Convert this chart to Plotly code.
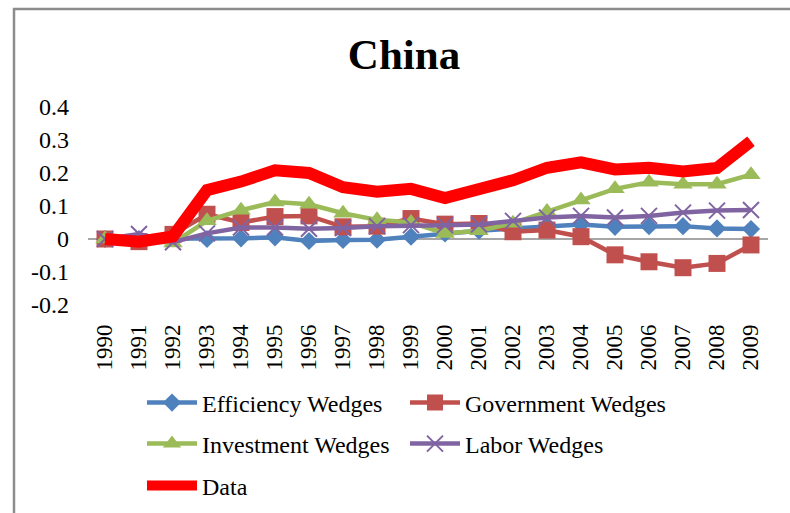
import plotly.graph_objects as go

years = [str(y) for y in range(1990, 2010)]
efficiency = [0.0, 0.0, 0.003, 0.0, 0.002, 0.005, -0.006, -0.003, -0.002, 0.007,
              0.017, 0.025, 0.032, 0.039, 0.044, 0.037, 0.039, 0.039, 0.032, 0.03]
government = [0.0, -0.008, 0.014, 0.075, 0.05, 0.068, 0.07, 0.037, 0.039, 0.062,
              0.045, 0.047, 0.022, 0.027, 0.007, -0.048, -0.069, -0.087, -0.074, -0.018]
investment = [0.0, -0.003, -0.012, 0.055, 0.087, 0.112, 0.105, 0.078, 0.058, 0.05,
              0.017, 0.025, 0.048, 0.083, 0.118, 0.152, 0.172, 0.166, 0.166, 0.195]
labor = [0.0, 0.015, -0.01, 0.017, 0.035, 0.035, 0.031, 0.033, 0.039, 0.042,
         0.042, 0.044, 0.055, 0.065, 0.07, 0.065, 0.07, 0.08, 0.086, 0.088]
data = [0.0, -0.008, 0.008, 0.148, 0.174, 0.208, 0.2, 0.157, 0.143, 0.152,
        0.124, 0.15, 0.178, 0.216, 0.232, 0.211, 0.216, 0.205, 0.215, 0.296]

ytick_vals = [-0.2, -0.1, 0, 0.1, 0.2, 0.3, 0.4]
ytick_text = ["-0.2", "-0.1", "0", "0.1", "0.2", "0.3", "0.4"]

FONT = '"Liberation Serif", "Times New Roman", serif'
# figure is taller than the visible window; the part below 513 px is cropped
W, H = 790, 540
L, R, T = 88, 22, 107
B = H - 305
PW, PH = W - L - R, H - T - B

def px_x(p):
    return (p - L) / PW

def px_y(p):
    return (H - B - p) / PH

fig = go.Figure()
fig.add_trace(go.Scatter(x=years, y=efficiency, name="Efficiency Wedges", mode="lines+markers",
                         line=dict(color="#4F81BD", width=4.5),
                         marker=dict(symbol="diamond", size=14, color="#4F81BD"),
                         legend="legend"))
fig.add_trace(go.Scatter(x=years, y=government, name="Government Wedges", mode="lines+markers",
                         line=dict(color="#C0504D", width=4.5),
                         marker=dict(symbol="square", size=17, color="#C0504D"),
                         legend="legend2"))
fig.add_trace(go.Scatter(x=years, y=investment, name="Investment Wedges", mode="lines+markers",
                         line=dict(color="#9BBB59", width=4.5),
                         marker=dict(symbol="triangle-up", size=17, color="#9BBB59"),
                         legend="legend3"))
fig.add_trace(go.Scatter(x=years, y=labor, name="Labor Wedges", mode="lines+markers",
                         line=dict(color="#8064A2", width=4.5),
                         marker=dict(symbol="x-thin", size=16, color="#8064A2",
                                     line=dict(color="#8064A2", width=2)),
                         legend="legend4"))
fig.add_trace(go.Scatter(x=years, y=data, name="Data", mode="lines",
                         line=dict(color="#FF0000", width=12),
                         legend="legend5"))

col1_x = px_x(142)
col2_x = px_x(405)
rows = [px_y(403), px_y(444), px_y(486)]

def leg(x, y):
    return dict(x=x, y=y, xanchor="left", yanchor="middle", orientation="h",
                font=dict(family=FONT, size=24, color="#000000"),
                bgcolor="rgba(0,0,0,0)", itemwidth=50)

fig.update_layout(
    width=W, height=H,
    margin=dict(l=L, r=R, t=T, b=B),
    paper_bgcolor="white", plot_bgcolor="white",
    showlegend=True,
    font=dict(family=FONT, size=24, color="#000000"),
    title=dict(text="<b>China</b>", x=404 / W, xref="container", xanchor="center",
               y=1 - 54 / H, yref="container", yanchor="middle",
               font=dict(family=FONT, size=43, color="#000000")),
    xaxis=dict(type="category", range=[-0.5, 19.5], showgrid=False, showline=False,
               zeroline=False, ticks="", tickangle=-90, ticklabelstandoff=14,
               tickfont=dict(family=FONT, size=23, color="#000000")),
    yaxis=dict(range=[-0.2, 0.4], tickvals=ytick_vals, ticktext=ytick_text,
               showgrid=False, showline=False, zeroline=True, zerolinecolor="#A6A6A6",
               zerolinewidth=2, ticks="", ticklabelstandoff=18,
               tickfont=dict(family=FONT, size=24, color="#000000")),
    legend=leg(col1_x, rows[0]),
    legend2=leg(col2_x, rows[0]),
    legend3=leg(col1_x, rows[1]),
    legend4=leg(col2_x, rows[1]),
    legend5=leg(col1_x, rows[2]),
    shapes=[dict(type="rect", xref="paper", yref="paper",
                 x0=px_x(14), x1=px_x(830), y0=px_y(H + 20), y1=px_y(9),
                 line=dict(color="#8C8C8C", width=2.5), fillcolor="rgba(0,0,0,0)",
                 layer="below")],
)

fig.write_html("out.html", config={"displayModeBar": False},
               post_script="document.body.style.margin='0';document.body.style.overflow='hidden';")
